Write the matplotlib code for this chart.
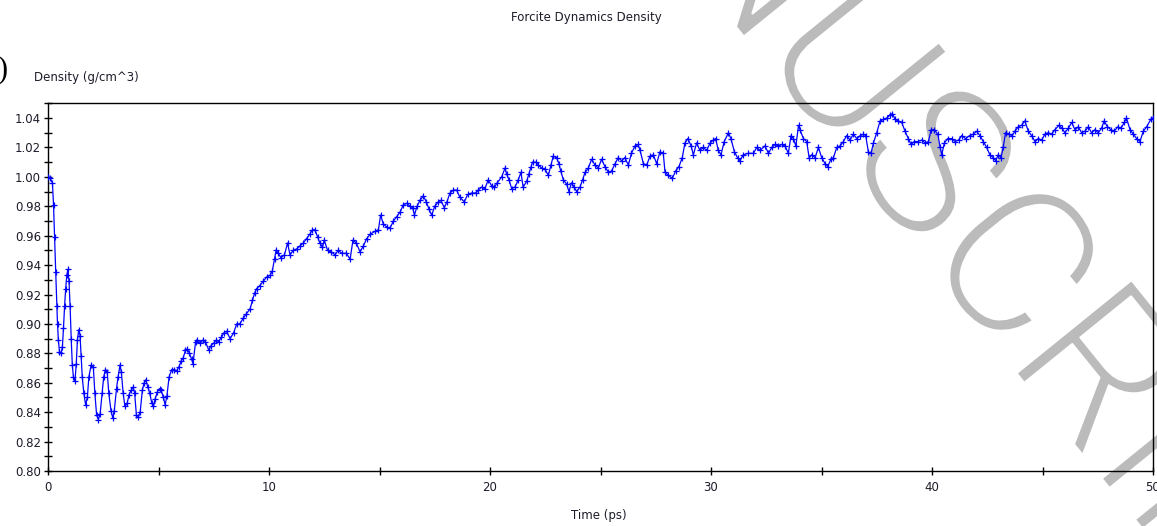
import numpy as np
import matplotlib
matplotlib.use("Agg")
import matplotlib.pyplot as plt
from matplotlib.ticker import MultipleLocator, FormatStrFormatter
from matplotlib import font_manager
import matplotlib.patheffects as pe

# ---------------- data ----------------
time_ps = [
    0.0, 0.1, 0.2, 0.25, 0.3, 0.35, 0.4, 0.43, 0.47, 0.52, 0.58, 0.65, 0.7, 0.75, 0.8, 0.85, 0.9, 0.95,
    1.0, 1.05, 1.1, 1.15, 1.22, 1.28, 1.33, 1.39, 1.45, 1.5, 1.55, 1.62, 1.7, 1.78, 1.85, 1.95,
    2.05, 2.12, 2.2, 2.28, 2.36, 2.45, 2.52, 2.6, 2.68, 2.75, 2.85, 2.93, 3.0, 3.1, 3.17, 3.26,
    3.32, 3.4, 3.48, 3.58, 3.67, 3.77, 3.85, 3.92, 4.0, 4.09, 4.17, 4.27, 4.35, 4.42, 4.52, 4.6,
    4.7, 4.77, 4.85, 4.95, 5.05, 5.12, 5.22, 5.3, 5.38, 5.48, 5.6, 5.72, 5.82, 5.93, 6.03, 6.12,
    6.22, 6.3, 6.4, 6.5, 6.56, 6.68, 6.76, 6.9, 7.0, 7.12, 7.28, 7.36, 7.5, 7.62, 7.72, 7.85,
    7.96, 8.08, 8.24, 8.4, 8.54, 8.68, 8.84, 8.98, 9.14, 9.25, 9.35, 9.44, 9.58, 9.74, 9.9, 10.05,
    10.15, 10.25, 10.32, 10.42, 10.54, 10.7, 10.84, 10.95, 11.1, 11.25, 11.4, 11.55, 11.7, 11.85,
    11.96, 12.08, 12.2, 12.3, 12.42, 12.5, 12.65, 12.8, 12.99, 13.13, 13.3, 13.5, 13.67, 13.8,
    13.95, 14.12, 14.27, 14.42, 14.58, 14.8, 14.95, 15.05, 15.17, 15.32, 15.47, 15.63, 15.78,
    15.93, 16.08, 16.23, 16.38, 16.5, 16.58, 16.7, 16.83, 16.98, 17.12, 17.24, 17.36, 17.5,
    17.66, 17.78, 17.93, 18.05, 18.19, 18.34, 18.49, 18.64, 18.84, 18.99, 19.17, 19.35, 19.47,
    19.62, 19.77, 19.92, 20.07, 20.2, 20.33, 20.53, 20.68, 20.75, 20.86, 20.98, 21.13, 21.28,
    21.4, 21.5, 21.66, 21.76, 21.86, 21.93, 22.07, 22.19, 22.34, 22.49, 22.64, 22.76, 22.86,
    23.01, 23.12, 23.2, 23.32, 23.47, 23.57, 23.69, 23.81, 23.92, 24.07, 24.19, 24.3, 24.45,
    24.6, 24.75, 24.9, 25.05, 25.2, 25.36, 25.5, 25.66, 25.8, 25.96, 26.1, 26.26, 26.4, 26.56,
    26.7, 26.79, 26.94, 27.09, 27.24, 27.39, 27.54, 27.69, 27.84, 27.92, 28.07, 28.25, 28.4,
    28.55, 28.7, 28.82, 28.95, 29.1, 29.2, 29.35, 29.5, 29.65, 29.8, 29.96, 30.1, 30.21, 30.33,
    30.45, 30.6, 30.79, 30.9, 31.06, 31.2, 31.31, 31.46, 31.69, 31.92, 32.07, 32.22, 32.44,
    32.6, 32.75, 32.9, 33.05, 33.2, 33.35, 33.5, 33.62, 33.73, 33.84, 33.96, 34.03, 34.18,
    34.33, 34.44, 34.56, 34.71, 34.86, 35.01, 35.16, 35.28, 35.43, 35.54, 35.69, 35.84, 35.99,
    36.14, 36.29, 36.44, 36.6, 36.75, 36.9, 37.0, 37.12, 37.24, 37.35, 37.5, 37.65, 37.8, 37.95,
    38.1, 38.21, 38.33, 38.48, 38.63, 38.78, 38.93, 39.05, 39.2, 39.36, 39.54, 39.69, 39.84,
    39.96, 40.11, 40.26, 40.37, 40.44, 40.56, 40.71, 40.89, 41.04, 41.2, 41.35, 41.52, 41.7,
    41.87, 42.02, 42.17, 42.32, 42.47, 42.62, 42.77, 42.88, 43.0, 43.12, 43.22, 43.33, 43.48,
    43.63, 43.75, 43.9, 44.05, 44.2, 44.36, 44.51, 44.66, 44.81, 44.96, 45.11, 45.26, 45.41,
    45.56, 45.74, 45.89, 46.01, 46.17, 46.32, 46.47, 46.62, 46.77, 46.92, 47.07, 47.22, 47.37,
    47.52, 47.67, 47.79, 47.94, 48.1, 48.25, 48.4, 48.55, 48.7, 48.8, 48.96, 49.11, 49.26,
    49.41, 49.56, 49.71, 49.9, 50.0,
]
density = [
    1.000, 0.999, 0.996, 0.981, 0.959, 0.935, 0.912, 0.900, 0.889, 0.881, 0.880, 0.884, 0.897, 0.912, 0.924, 0.933, 0.937, 0.929,
    0.912, 0.890, 0.872, 0.864, 0.861, 0.873, 0.889, 0.896, 0.892, 0.878, 0.864, 0.853, 0.845, 0.850, 0.864, 0.872,
    0.871, 0.853, 0.838, 0.835, 0.839, 0.853, 0.864, 0.869, 0.867, 0.853, 0.841, 0.836, 0.841, 0.856, 0.864, 0.872,
    0.867, 0.853, 0.844, 0.846, 0.852, 0.855, 0.857, 0.853, 0.838, 0.837, 0.840, 0.855, 0.860, 0.862, 0.857, 0.853,
    0.846, 0.844, 0.849, 0.854, 0.856, 0.855, 0.850, 0.845, 0.851, 0.864, 0.869, 0.869, 0.868, 0.871, 0.875, 0.877,
    0.882, 0.883, 0.880, 0.876, 0.873, 0.888, 0.889, 0.887, 0.889, 0.888, 0.882, 0.885, 0.887, 0.889, 0.888, 0.891,
    0.894, 0.895, 0.890, 0.894, 0.900, 0.900, 0.904, 0.907, 0.910, 0.916, 0.921, 0.924, 0.926, 0.929, 0.932, 0.933,
    0.936, 0.944, 0.950, 0.948, 0.945, 0.947, 0.955, 0.947, 0.950, 0.951, 0.953, 0.955, 0.958, 0.961,
    0.964, 0.964, 0.959, 0.955, 0.952, 0.957, 0.950, 0.949, 0.947, 0.950, 0.948, 0.948, 0.944, 0.957,
    0.955, 0.949, 0.953, 0.958, 0.961, 0.963, 0.964, 0.974, 0.968, 0.966, 0.965, 0.970, 0.973,
    0.976, 0.981, 0.982, 0.980, 0.979, 0.974, 0.980, 0.984, 0.987, 0.983, 0.978, 0.974, 0.980,
    0.983, 0.984, 0.979, 0.983, 0.989, 0.991, 0.991, 0.986, 0.983, 0.988, 0.989, 0.989, 0.991,
    0.993, 0.992, 0.998, 0.994, 0.993, 0.996, 1.000, 1.006, 1.002, 0.998, 0.992, 0.993, 0.998,
    1.003, 0.993, 0.997, 1.002, 1.007, 1.010, 1.010, 1.008, 1.006, 1.005, 1.001, 1.008, 1.014,
    1.013, 1.009, 1.004, 0.998, 0.995, 0.990, 0.996, 0.993, 0.990, 0.993, 0.998, 1.003, 1.006,
    1.012, 1.008, 1.006, 1.012, 1.007, 1.003, 1.004, 1.009, 1.013, 1.011, 1.013, 1.008, 1.016, 1.021,
    1.022, 1.018, 1.009, 1.008, 1.014, 1.015, 1.009, 1.017, 1.016, 1.003, 1.001, 0.999, 1.004,
    1.007, 1.013, 1.023, 1.026, 1.021, 1.015, 1.023, 1.018, 1.020, 1.018, 1.023, 1.025, 1.026, 1.018,
    1.015, 1.024, 1.030, 1.026, 1.017, 1.013, 1.011, 1.015, 1.016, 1.016, 1.020, 1.018, 1.021,
    1.016, 1.020, 1.022, 1.021, 1.022, 1.021, 1.016, 1.028, 1.026, 1.021, 1.035, 1.032, 1.026,
    1.024, 1.013, 1.015, 1.013, 1.020, 1.013, 1.009, 1.007, 1.012, 1.013, 1.020, 1.021, 1.024,
    1.028, 1.025, 1.029, 1.026, 1.028, 1.029, 1.028, 1.017, 1.016, 1.023, 1.030, 1.038, 1.039, 1.040,
    1.042, 1.043, 1.039, 1.038, 1.037, 1.031, 1.026, 1.022, 1.024, 1.024, 1.025, 1.023, 1.024,
    1.032, 1.032, 1.029, 1.020, 1.015, 1.023, 1.026, 1.026, 1.024, 1.025, 1.028, 1.026, 1.028,
    1.029, 1.031, 1.028, 1.024, 1.020, 1.015, 1.013, 1.011, 1.015, 1.013, 1.020, 1.030, 1.029,
    1.028, 1.031, 1.034, 1.035, 1.038, 1.031, 1.028, 1.024, 1.026, 1.025, 1.029, 1.030, 1.029,
    1.032, 1.035, 1.033, 1.030, 1.033, 1.037, 1.032, 1.034, 1.030, 1.031, 1.034, 1.030, 1.032,
    1.030, 1.033, 1.038, 1.034, 1.032, 1.031, 1.034, 1.033, 1.037, 1.040, 1.032, 1.029, 1.026,
    1.024, 1.031, 1.034, 1.039, 1.040,
]

title_text = "Forcite Dynamics Density"
y_label = "Density (g/cm^3)"
x_label = "Time (ps)"
watermark = "MANUSCRIPT"

# ---------------- figure ----------------
W, H, DPI = 1157, 526, 100
fig = plt.figure(figsize=(W / DPI, H / DPI), dpi=DPI, facecolor="white")
ax = fig.add_axes([48 / W, 1 - 471 / H, (1153 - 48) / W, (471 - 103) / H])
ax.patch.set_facecolor("none")

ax.plot(time_ps, density, color="#0000ff", lw=0.9, marker="+", ms=4.5, mew=0.9, zorder=3)

ax.set_xlim(0, 50)
ax.set_ylim(0.80, 1.0502)
ax.xaxis.set_major_locator(MultipleLocator(10))
ax.xaxis.set_minor_locator(MultipleLocator(5))
ax.yaxis.set_major_locator(MultipleLocator(0.02))
ax.yaxis.set_minor_locator(MultipleLocator(0.01))
ax.yaxis.set_major_formatter(FormatStrFormatter("%.2f"))
ax.xaxis.set_major_formatter(FormatStrFormatter("%d"))

txt_col = "#1c1c2a"
for which in ("major", "minor"):
    ax.tick_params(axis="both", which=which, direction="inout", length=6, width=1.0,
                   color="black", labelsize=8.5, labelcolor=txt_col, pad=2)
ax.tick_params(axis="x", which="major", pad=4)
for s in ax.spines.values():
    s.set_linewidth(1.0)
    s.set_color("black")

fig.text(586 / W, 1 - 18 / H, title_text, ha="center", va="center", fontsize=8.5, color=txt_col)
fig.text(34 / W, 1 - 78 / H, y_label, ha="left", va="center", fontsize=8.5, color=txt_col)
fig.text(599 / W, 1 - 515 / H, x_label, ha="center", va="center", fontsize=8.5, color=txt_col)
fig.text(-3 / W, 1 - 70 / H, ")", ha="left", va="center", fontsize=22,
         family="Liberation Serif", color="black")

# ---------------- watermark (thin sans) ----------------
wm_family, wm_weight = "DejaVu Sans", "normal"
found = False
for fam in ("Roboto", "Lato", "Open Sans", "Inter", "Noto Sans", "DejaVu Sans"):
    for fe in font_manager.fontManager.ttflist:
        w = fe.weight if isinstance(fe.weight, int) else 400
        if fe.name == fam and 200 <= w <= 300 and fe.style == "normal":
            wm_family, wm_weight = fam, w
            found = True
            break
    if found:
        break
if not found:
    wm_family, wm_weight = "Liberation Sans", "normal"

FS = 150
rot = -51.0
r = np.deg2rad(rot)
bdir = np.array([np.cos(r), np.sin(r)])
up = np.array([-np.sin(r), np.cos(r)])
renderer = fig.canvas.get_renderer()

def text_w(s):
    t = fig.text(0, 0, s, fontsize=FS, family=wm_family, fontweight=wm_weight)
    w = t.get_window_extent(renderer).width
    t.remove()
    return w

centers = []
for i in range(3, 7):  # U S C R
    centers.append(text_w(watermark[:i]) + text_w(watermark[i]) / 2)
mean_c = np.mean(centers)
cap = 0.715 * FS * DPI / 72
G = np.array([980.0, H - 210.0])
anchor = G - mean_c * bdir - (cap / 2) * up
fig.text(anchor[0] / W, anchor[1] / H, watermark, fontsize=FS, family=wm_family,
         fontweight=wm_weight, color="#bbbbbb", rotation=rot, rotation_mode="anchor",
         ha="left", va="baseline", zorder=-1,
         path_effects=[pe.Normal(), pe.Stroke(linewidth=1.6, foreground="white")])

fig.savefig("out.png", dpi=DPI, facecolor="white")
